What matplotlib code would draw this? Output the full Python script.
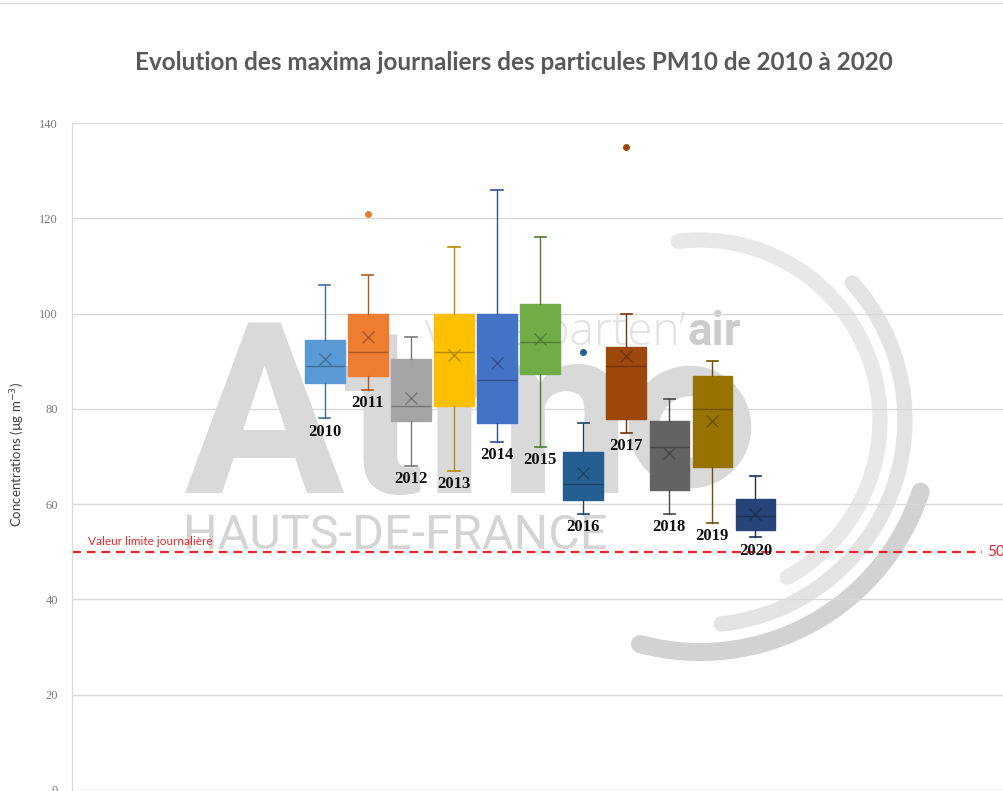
import matplotlib
matplotlib.use("Agg")
import matplotlib.pyplot as plt
import numpy as np
from matplotlib.patches import Arc, Circle
from matplotlib.transforms import blended_transform_factory

# maxima journaliers PM10 par annee
years = [2010, 2011, 2012, 2013, 2014, 2015, 2016, 2017, 2018, 2019, 2020]
whis_lo = [78, 84, 68, 67, 73, 72, 58, 75, 58, 56, 53]
q1 = [85.5, 87, 77.5, 80.7, 77, 87.3, 60.8, 77.8, 63, 67.8, 54.5]
med = [89, 92, 80.5, 92, 86, 94, 64.3, 89, 72, 80, 57.5]
q3 = [94.5, 100, 90.5, 100, 100, 102, 71, 93, 77.5, 87, 61]
whis_hi = [106, 108, 95, 114, 126, 116, 77, 100, 82, 90, 66]
means = [90.5, 95, 82.3, 91.2, 89.7, 94.6, 66.6, 91, 70.8, 77.5, 58]
outliers = [[], [121], [], [], [], [], [92], [135], [], [], []]
valeur_limite = 50
yticks = [0, 20, 40, 60, 80, 100, 120, 140]

colors = ['#5B9BD5', '#ED7D31', '#A5A5A5', '#FFC000', '#4472C4', '#70AD47',
          '#255E91', '#9E480E', '#636363', '#997300', '#264478']


def darker(c, f=0.72):
    r, g, b = matplotlib.colors.to_rgb(c)
    return (r * f, g * f, b * f)


W, H = 1004, 791
fig = plt.figure(figsize=(W / 100, H / 100), dpi=100)
fig.patch.set_facecolor('white')

# --- filigrane Atmo (en pixels) ---
wm = fig.add_axes([0, 0, 1, 1], zorder=0)
wm.set_xlim(0, W); wm.set_ylim(H, 0); wm.axis('off')
wm.plot([0, W], [3, 3], color='#dcdcdc', lw=1)  # bord du graphique
gris = '#d9d9d9'
wm.text(183, 493, "Atm", fontsize=172, color=gris, family='Roboto',
        weight='bold', ha='left', va='baseline')
wm.add_patch(Circle((690, 427), 46, fill=False, ec=gris, lw=22))
wm.text(183, 549, "HAUTS-DE-FRANCE", fontsize=35, color='#d4d4d4',
        family='Roboto', ha='left', va='baseline')
wm.text(686, 345, "votre parten\u2019", fontsize=33, color='#e2e2e2',
        family='Open Sans', weight='light', ha='right', va='baseline')
wm.text(688, 345, "air", fontsize=33, color='#cccccc',
        family='Roboto', weight='bold', ha='left', va='baseline')
for r, a1, a2, col, lw in [(180, -61, 97, '#e8e8e8', 11),
                           (205, -84, 42, '#e3e3e3', 11),
                           (232, -105, -18, '#d2d2d2', 13)]:
    arc = Arc((700, 420), 2 * r, 2 * r, theta1=-a2, theta2=-a1,
              color=col, lw=lw)
    arc.set_capstyle('round')
    wm.add_patch(arc)

# --- graphique principal ---
ax = fig.add_axes([72 / W, 1 / H, 1 - 72 / W, 667 / H], zorder=1)
ax.set_facecolor('none')
pos = np.arange(1, len(years) + 1)

stats = []
for i, y in enumerate(years):
    stats.append(dict(label=str(y), whislo=whis_lo[i], q1=q1[i], med=med[i],
                      q3=q3[i], whishi=whis_hi[i], mean=means[i],
                      fliers=outliers[i]))

bp = ax.bxp(stats, positions=pos, widths=0.92, patch_artist=True,
            showmeans=True, showfliers=True, zorder=3)
for i, c in enumerate(colors):
    d = darker(c)
    bp['boxes'][i].set(facecolor=c, edgecolor=c, lw=1)
    bp['medians'][i].set(color=d, lw=1)
    bp['means'][i].set(marker='x', markeredgecolor=d, markersize=8, mew=1)
    for k in (2 * i, 2 * i + 1):
        bp['whiskers'][k].set(color=d, lw=1)
        bp['caps'][k].set(color=d, lw=1.2)
        bp['caps'][k].set_xdata([pos[i] - 0.13, pos[i] + 0.13])
    bp['fliers'][i].set(marker='o', markerfacecolor=c, markeredgecolor=c,
                        markersize=4)

for i, y in enumerate(years):
    ax.annotate(str(y), (pos[i], whis_lo[i]), xytext=(0, -9.5),
                textcoords='offset points', ha='center', va='center',
                fontsize=12, weight='bold', family='Liberation Serif',
                color='#111111', zorder=4)

# valeur limite
ax.axhline(valeur_limite, xmax=0.976, color='#E8262B', lw=1.6,
           ls=(0, (4, 2.6)), zorder=2)
tr = blended_transform_factory(ax.transAxes, ax.transData)
ax.text(0.017, valeur_limite + 2.1, "Valeur limite journalière", transform=tr,
        fontsize=8.5, color='#E8262B', family='Lato', ha='left', va='center')
ax.text(0.982, valeur_limite, str(valeur_limite), transform=tr,
        fontsize=11, color='#E8262B', family='Lato', ha='left', va='center')

ax.set_xlim(-4.87, 16.77)
ax.set_ylim(0, 140)
ax.set_yticks(yticks)
ax.set_yticklabels([str(t) for t in yticks], family='Liberation Serif',
                   fontsize=9, color='#7a7a7a')
ax.tick_params(axis='y', length=0, pad=10)
ax.set_xticks([])
ax.yaxis.grid(True, color='#d9d9d9', lw=1)
ax.set_axisbelow(True)
for s in ['top', 'right', 'bottom']:
    ax.spines[s].set_visible(False)
ax.spines['left'].set_color('#d9d9d9')

fig.text(18 / W, 1 - 455 / H, r"Concentrations (µg m$^{-3}$)", rotation=90,
         ha='center', va='center', fontsize=9.5, color='#404040', family='Lato')
fig.text(514 / W, 1 - 62 / H,
         "Evolution des maxima journaliers des particules PM10 de 2010 à 2020",
         ha='center', va='center', fontsize=17.5, weight='bold',
         color='#595959', family='Lato')

fig.savefig("out.png", dpi=100)
